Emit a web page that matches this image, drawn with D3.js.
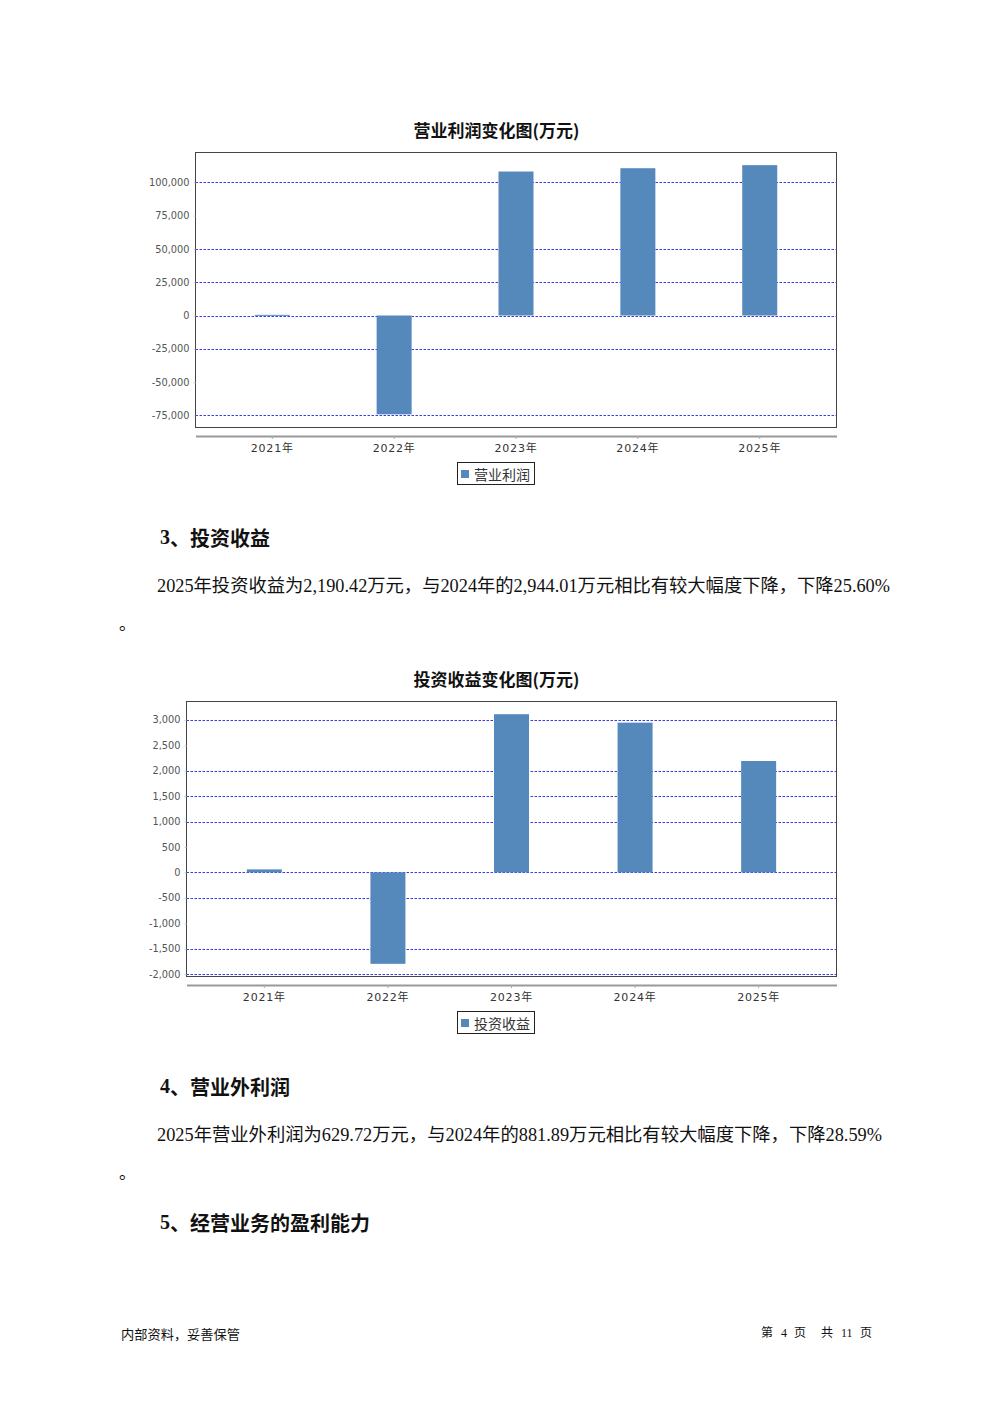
<!DOCTYPE html>
<html><head><meta charset="utf-8">
<script src="https://cdn.jsdelivr.net/npm/d3@7/dist/d3.min.js"></script>
<style>
html,body{margin:0;padding:0;background:#fff;}
svg{display:block;}
</style></head>
<body>
<script>
// ---- data ----
const categories = ["2021年", "2022年", "2023年", "2024年", "2025年"];
const profitValues = [500, -74200, 108100, 110600, 112900];
const investValues = [59, -1798, 3110, 2944.01, 2190.42];
const profitTicks = [100000, 75000, 50000, 25000, 0, -25000, -50000, -75000];
const profitGrid = [100000, 50000, 25000, 0, -25000, -75000];
const investTicks = [3000, 2500, 2000, 1500, 1000, 500, 0, -500, -1000, -1500, -2000];
const investGrid = [3000, 2000, 1500, 1000, 0, -500, -1500, -2000];
const profitTitle = "营业利润变化图(万元)";
const investTitle = "投资收益变化图(万元)";
const profitLegend = "营业利润";
const investLegend = "投资收益";

const heading3 = ["3", "、投资收益"];
const para3 = "2025年投资收益为2,190.42万元，与2024年的2,944.01万元相比有较大幅度下降，下降25.60%";
const heading4 = ["4", "、营业外利润"];
const para4 = "2025年营业外利润为629.72万元，与2024年的881.89万元相比有较大幅度下降，下降28.59%";
const heading5 = ["5", "、经营业务的盈利能力"];
const footerLeft = "内部资料，妥善保管";
const footerRight = ["第", "4", "页", "共", "11", "页"];

// ---- page ----
const W = 992, H = 1403;
const svg = d3.select("body").append("svg").attr("width", W).attr("height", H);
svg.append("rect").attr("width", W).attr("height", H).attr("fill", "#fff");

const BAR = "#5588bb";
const CJK = "'Noto Sans CJK SC', 'DejaVu Sans', sans-serif";
const fmt = d3.formatLocale({decimal: ".", thousands: ",", grouping: [3], currency: ["", ""], minus: "-"}).format(",");

function drawChart(cfg) {
  const g = svg.append("g");
  const x = d3.scaleBand().domain(categories).range([cfg.x0, cfg.x1]).paddingInner(0).paddingOuter(0.13);
  const y = d3.scaleLinear().domain(cfg.domain).range([cfg.y1, cfg.y0]);
  const barW = 35;

  // title
  g.append("text").attr("x", 496.5).attr("y", cfg.titleY).attr("text-anchor", "middle")
    .attr("dominant-baseline", "central")
    .attr("font-family", CJK).attr("font-weight", "bold").attr("font-size", 17)
    .attr("fill", "#111").text(cfg.title);

  g.append("rect").attr("x", cfg.x0).attr("y", cfg.y0).attr("width", cfg.x1 - cfg.x0)
    .attr("height", cfg.y1 - cfg.y0).attr("fill", "#fff");

  // gridlines
  g.selectAll(".grid").data(cfg.grid).join("line")
    .attr("x1", cfg.x0).attr("x2", cfg.x1)
    .attr("y1", d => Math.round(y(d)) + 0.5).attr("y2", d => Math.round(y(d)) + 0.5)
    .attr("stroke", "#3a3af0").attr("stroke-width", 1).attr("stroke-dasharray", "2.5,1.5");

  // bars
  g.selectAll(".bar").data(cfg.values).join("rect")
    .attr("x", (d, i) => x(categories[i]) + x.bandwidth() / 2 - barW / 2)
    .attr("y", d => Math.min(y(d), y(0)))
    .attr("width", barW)
    .attr("height", d => Math.max(1, Math.abs(y(d) - y(0))))
    .attr("fill", BAR);

  // frame
  g.append("rect").attr("x", cfg.x0).attr("y", cfg.y0).attr("width", cfg.x1 - cfg.x0)
    .attr("height", cfg.y1 - cfg.y0).attr("fill", "none").attr("stroke", "#444").attr("stroke-width", 1);

  // y axis
  const ya = g.append("g").attr("transform", `translate(${cfg.x0},0)`)
    .call(d3.axisLeft(y).tickValues(cfg.ticks).tickFormat(fmt).tickSize(2).tickPadding(4));
  ya.select(".domain").remove();
  ya.selectAll(".tick line").attr("stroke", "#ccc");
  ya.selectAll(".tick text").attr("font-family", "'DejaVu Sans', sans-serif").attr("font-size", 9.8)
    .attr("fill", "#555");

  // x axis
  const xa = g.append("g").attr("transform", `translate(0,${cfg.axisY})`)
    .call(d3.axisBottom(x).tickSizeInner(3).tickSizeOuter(0).tickPadding(5));
  xa.select(".domain").attr("stroke", "#999").attr("stroke-width", 2);
  xa.selectAll(".tick line").attr("stroke", "#aaa");
  xa.selectAll(".tick text").attr("font-family", "'DejaVu Sans', " + CJK).attr("font-size", 11)
    .attr("letter-spacing", 0.8).attr("fill", "#333");

  // legend
  const lg = g.append("g");
  lg.append("rect").attr("x", 457.5).attr("y", cfg.legendY + 0.5).attr("width", 77).attr("height", 22)
    .attr("fill", "#fff").attr("stroke", "#222").attr("stroke-width", 1);
  lg.append("rect").attr("x", 461).attr("y", cfg.legendY + 8).attr("width", 8).attr("height", 8).attr("fill", BAR);
  lg.append("text").attr("x", 474).attr("y", cfg.legendY + 12).attr("dominant-baseline", "central")
    .attr("font-family", CJK).attr("font-size", 14).attr("fill", "#333").text(cfg.legend);
}

drawChart({
  title: profitTitle, titleY: 129, legend: profitLegend,
  values: profitValues, ticks: profitTicks, grid: profitGrid,
  x0: 195.5, x1: 836.5, y0: 152.5, y1: 427.5, domain: [-84100, 122400],
  axisY: 436, legendY: 462
});
drawChart({
  title: investTitle, titleY: 678, legend: investLegend,
  values: investValues, ticks: investTicks, grid: investGrid,
  x0: 186.5, x1: 836.5, y0: 701.5, y1: 976.5, domain: [-2047, 3360],
  axisY: 985, legendY: 1011
});

// ---- text blocks ----
const SERIF = "'Liberation Serif', 'Noto Sans CJK SC', serif";
function heading(parts, yc) {
  const t = svg.append("text").attr("x", 160).attr("y", yc).attr("dominant-baseline", "central")
    .attr("font-weight", "bold").attr("font-size", 20).attr("fill", "#111");
  t.append("tspan").attr("font-family", SERIF).text(parts[0]);
  t.append("tspan").attr("font-family", CJK).text(parts[1]);
}
function para(str, yc, width) {
  svg.append("text").attr("x", 157).attr("y", yc).attr("dominant-baseline", "central")
    .attr("font-family", SERIF).attr("font-size", 18).attr("fill", "#111")
    .attr("textLength", width).attr("lengthAdjust", "spacingAndGlyphs").text(str);
}
function period(yc) {
  svg.append("text").attr("x", 119).attr("y", yc).attr("dominant-baseline", "central")
    .attr("font-family", CJK).attr("font-size", 17).attr("fill", "#111").text("。");
}
heading(heading3, 537);
para(para3, 586, 733);
period(622);
heading(heading4, 1086);
para(para4, 1135, 725);
period(1171);
heading(heading5, 1222);

svg.append("text").attr("x", 121).attr("y", 1333).attr("dominant-baseline", "central")
  .attr("font-family", CJK).attr("font-size", 13).attr("fill", "#111")
  .attr("textLength", 119).attr("lengthAdjust", "spacingAndGlyphs").text(footerLeft);
const frX = [761, 781, 794, 821, 841, 860];
svg.append("g").selectAll("text").data(footerRight).join("text")
  .attr("x", (d, i) => frX[i]).attr("y", 1333).attr("dominant-baseline", "central")
  .attr("font-family", SERIF).attr("font-size", 12).attr("fill", "#111").text(d => d);
</script>
</body></html>
